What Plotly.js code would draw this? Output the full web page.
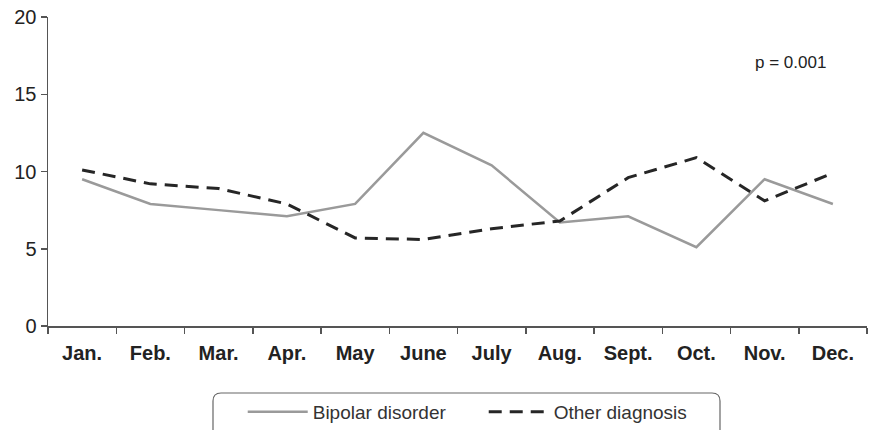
<!DOCTYPE html>
<html>
<head>
<meta charset="utf-8">
<script src="https://cdn.plot.ly/plotly-3.0.1.min.js"></script>
<style>html,body{margin:0;padding:0;background:#fff;}#chart{width:879px;height:430px;}</style>
</head>
<body>
<div id="chart"></div>
<script>
const months = ["Jan.", "Feb.", "Mar.", "Apr.", "May", "June", "July", "Aug.", "Sept.", "Oct.", "Nov.", "Dec."];
const bipolar = [9.5, 7.9, 7.5, 7.1, 7.9, 12.5, 10.4, 6.7, 7.1, 5.1, 9.5, 7.9];
const other = [10.1, 9.2, 8.9, 7.9, 5.7, 5.6, 6.3, 6.8, 9.6, 10.9, 8.1, 9.9];
const yTicks = [0, 5, 10, 15, 20];

const font = "Arial, 'Liberation Sans', sans-serif";

const traces = [
  {x: months, y: bipolar, type: "scatter", mode: "lines", name: "Bipolar disorder",
   line: {color: "#9a9a9a", width: 2.5}},
  {x: months, y: other, type: "scatter", mode: "lines", name: "Other diagnosis",
   line: {color: "#262626", width: 3, dash: "13px,8px"}}
];

const W = 879, H = 430;
const ML = 48, MR = 12, MT = 17, MB = 104;

const layout = {
  width: W, height: H,
  margin: {l: ML, r: MR, t: MT, b: MB},
  paper_bgcolor: "#ffffff", plot_bgcolor: "#ffffff",
  font: {family: font, color: "#222"},
  showlegend: true,
  legend: {orientation: "h", xref: "container", yref: "container",
           x: 248 / W - 0.006, xanchor: "left", y: 1 - 412 / H, yanchor: "middle",
           font: {size: 19, color: "#333", family: font}, itemwidth: 60,
           entrywidth: 166, entrywidthmode: "pixels",
           bgcolor: "rgba(0,0,0,0)", borderwidth: 0, tracegroupgap: 0},
  xaxis: {type: "category", range: [-0.5, 11.5], tickson: "boundaries",
          showline: true, linecolor: "#555", linewidth: 1.5,
          ticks: "outside", ticklen: 6, tickcolor: "#555", tickwidth: 1.5,
          ticklabelstandoff: 8,
          showgrid: false, zeroline: false, automargin: false,
          tickfont: {size: 20, color: "#222", family: font, weight: "bold"}},
  yaxis: {range: [0, 20], tickvals: yTicks, ticktext: yTicks.map(String),
          showline: true, linecolor: "#555", linewidth: 1.5,
          ticks: "outside", ticklen: 6, tickcolor: "#555", tickwidth: 1.5,
          showgrid: false, zeroline: false, automargin: false,
          tickfont: {size: 20, color: "#222", family: font}},
  annotations: [{xref: "paper", yref: "paper", x: 0.906, y: 0.854, xanchor: "center", yanchor: "middle",
                 text: "p = 0.001", showarrow: false, font: {size: 17, color: "#222", family: font}}]
};

// rounded legend frame: pixel positions converted to paper coords
const plotW = W - ML - MR, plotH = H - MT - MB;
const fx = p => (p - ML) / plotW;
const fy = p => 1 - (p - MT) / plotH;
const bx0 = 213, bx1 = 720, byt = 393, byb = 452, r = 8;
const fp = `M ${fx(bx0)},${fy(byb)} L ${fx(bx0)},${fy(byt + r)} Q ${fx(bx0)},${fy(byt)} ${fx(bx0 + r)},${fy(byt)} ` +
           `L ${fx(bx1 - r)},${fy(byt)} Q ${fx(bx1)},${fy(byt)} ${fx(bx1)},${fy(byt + r)} L ${fx(bx1)},${fy(byb)}`;
layout.shapes = [{type: "path", xref: "paper", yref: "paper", path: fp, line: {color: "#666", width: 1.2}}];

Plotly.newPlot("chart", traces, layout, {displayModeBar: false, staticPlot: true});
</script>
</body>
</html>
